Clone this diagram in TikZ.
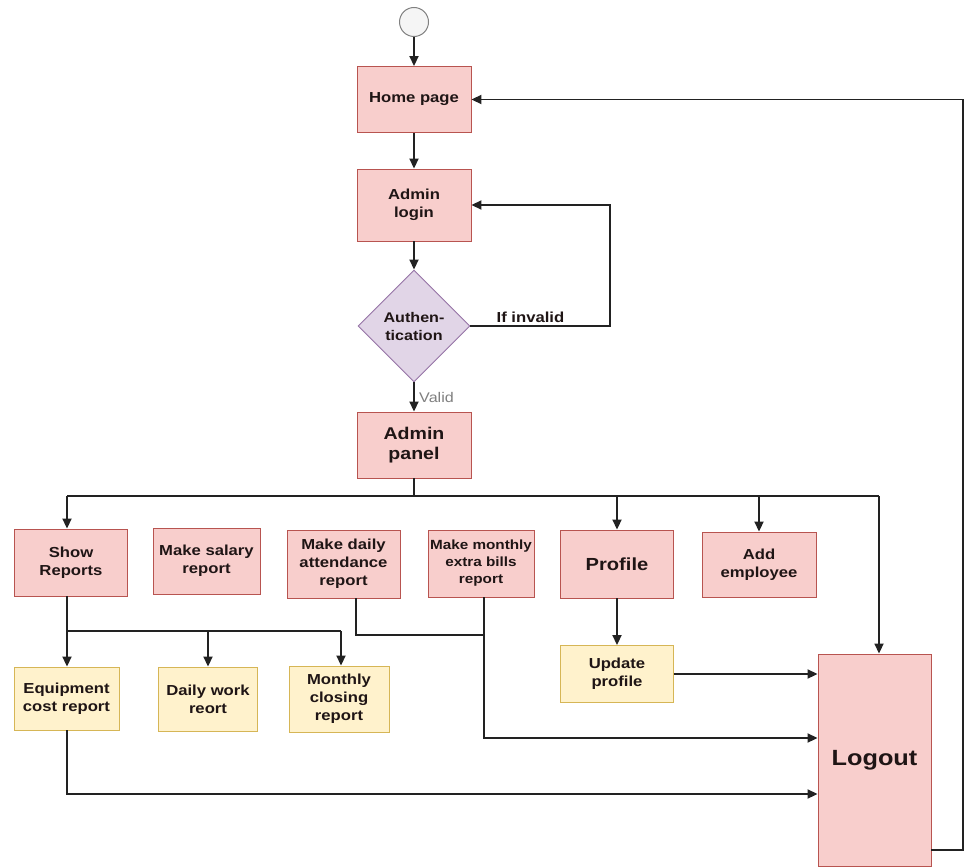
\documentclass[tikz,border=0pt]{standalone}
\usepackage{fontspec}
\setmainfont{Liberation Sans}[FakeStretch=1.15]
\usetikzlibrary{shapes.geometric,arrows.meta}
\definecolor{pinkfill}{HTML}{F8CECC}
\definecolor{pinkline}{HTML}{B85450}
\definecolor{yelfill}{HTML}{FFF2CC}
\definecolor{yelline}{HTML}{D6B656}
\definecolor{purfill}{HTML}{E1D5E7}
\definecolor{purline}{HTML}{9673A6}
\definecolor{linecol}{HTML}{222222}
\definecolor{txtcol}{HTML}{1F1515}
\begin{document}
\begin{tikzpicture}[x=1pt,y=-1pt]
\tikzset{
  basebox/.style={line width=0.9pt, align=center, inner sep=2pt, text=txtcol,
    font=\fontsize{14.5}{18}\selectfont\bfseries},
  pbox/.style={basebox, draw=pinkline, fill=pinkfill},
  ybox/.style={basebox, draw=yelline, fill=yelfill},
  conn/.style={draw=linecol, line width=1.8pt},
  arr/.style={conn, -{Triangle[length=10pt,width=9pt]}},
}
\useasboundingbox (0,0) rectangle (968,867);
\fill[white] (0,0) rectangle (968,867);

% start
\node[circle, draw=black!50, fill=black!4, line width=1pt, minimum size=29, inner sep=0] (start) at (414,22) {};

% main column
\node[pbox, minimum width=114, minimum height=66] (home) at (414,99.5) {Home page};
\node[pbox, minimum width=114, minimum height=72] (login) at (414,205) {Admin\\login};
\node[diamond, draw=purline, fill=purfill, line width=0.9pt, minimum width=112, minimum height=112, inner sep=0, align=center, text=txtcol, font=\fontsize{14}{18}\selectfont\bfseries] (auth) at (414,326) {Authen-\\tication};
\node[pbox, minimum width=114, minimum height=66, font=\fontsize{17}{20}\selectfont\bfseries] (panel) at (414,445) {Admin\\panel};

% second row
\node[pbox, minimum width=113, minimum height=67] (show) at (71,562.5) {Show\\Reports};
\node[pbox, minimum width=107, minimum height=66] (salary) at (206.5,561) {Make salary\\report};
\node[pbox, minimum width=113, minimum height=68] (att) at (343.5,564) {Make daily\\attendance\\report};
\node[pbox, minimum width=106, minimum height=67, font=\fontsize{13.3}{17}\selectfont\bfseries] (mextra) at (481,563.5) {Make monthly\\extra bills\\report};
\node[pbox, minimum width=113, minimum height=68, font=\fontsize{17.5}{20}\selectfont\bfseries] (profile) at (617,564) {Profile};
\node[pbox, minimum width=114, minimum height=65] (add) at (759,564.5) {Add\\employee};

% third row
\node[ybox, minimum width=105, minimum height=63] (equip) at (66.5,698.5) {Equipment\\cost report};
\node[ybox, minimum width=99, minimum height=64] (dwork) at (208,699) {Daily work\\reort};
\node[ybox, minimum width=100, minimum height=66] (mclose) at (339,699) {Monthly\\closing\\report};
\node[ybox, minimum width=113, minimum height=57] (upd) at (617,674) {Update\\profile};
\node[pbox, minimum width=113, minimum height=212, font=\fontsize{22}{26}\selectfont\bfseries] (logout) at (874.5,760) {Logout};

% connectors: main column
\draw[arr] (start) -- (home);
\draw[arr] (home) -- (login);
\draw[arr] (login) -- (auth);
\draw[arr] (auth) -- node[right, xshift=1pt, text=black!50, font=\fontsize{14}{16}\selectfont] {Valid} (panel);
\coordinate (inv) at (610,326);
\draw[arr] (auth.east) -- node[pos=0.43, above, yshift=-1pt, text=txtcol, font=\fontsize{14.5}{16}\selectfont\bfseries] {If invalid} (inv) |- (login.east);

% bus from admin panel
\coordinate (bus) at (414,496);
\coordinate (busL) at (67,496);
\coordinate (busR) at (879,496);
\draw[conn] (panel.south) -- (bus);
\draw[conn] (busL) -- (busR);
\draw[arr] (busL) -- (busL |- show.north);
\draw[arr] (profile.north |- busL) -- (profile.north);
\draw[arr] (add.north |- busL) -- (add.north);
\draw[arr] (busR) -- (busR |- logout.north);

% reports sub-bus
\coordinate (rb) at (67,631);
\coordinate (rbR) at (341,631);
\draw[conn] (rb |- show.south) -- (rb);
\draw[conn] (rb) -- (rbR);
\draw[arr] (rb) -- (rb |- equip.north);
\draw[arr] (dwork.north |- rb) -- (dwork.north);
\draw[arr] (rbR) -- (rbR |- mclose.north);

% profile -> update -> logout
\draw[arr] (profile) -- (upd);
\draw[arr] (upd.east) -- (upd.east -| logout.west);

% attendance / monthly extra -> logout
\coordinate (ab) at (356,635);
\coordinate (mb) at (484,738);
\draw[conn] (ab |- att.south) -- (ab) -- (ab -| mb);
\draw[arr] (mb |- mextra.south) -- (mb) -- (mb -| logout.west);

% equipment -> logout
\coordinate (eb) at (67,794);
\draw[arr] (eb |- equip.south) -- (eb) -- (eb -| logout.west);

% logout -> home
\coordinate (lo) at (963,850);
\draw[arr] (lo -| logout.east) -- (lo) |- (home.east);
\end{tikzpicture}
\end{document}
